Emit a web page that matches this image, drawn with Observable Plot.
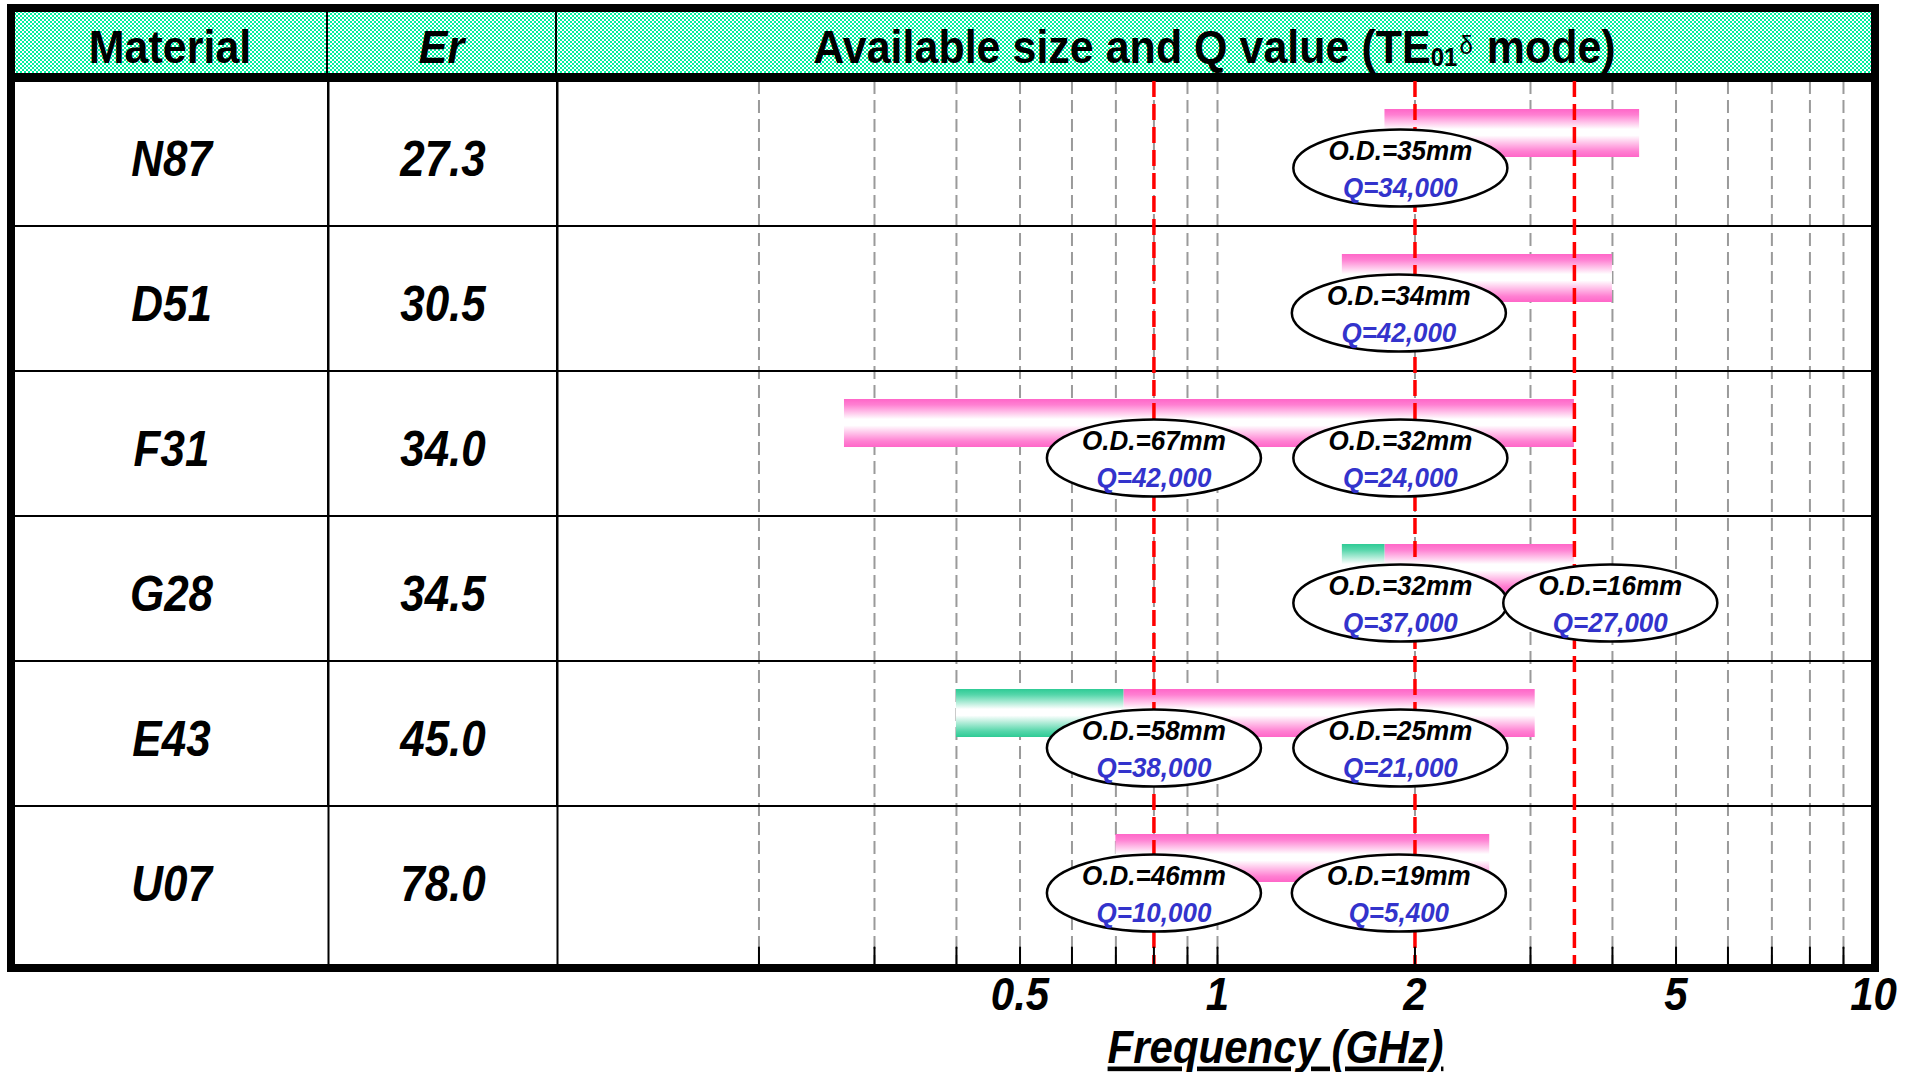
<!DOCTYPE html>
<html>
<head>
<meta charset="utf-8">
<script src="https://cdn.jsdelivr.net/npm/d3@7"></script>
<script src="https://cdn.jsdelivr.net/npm/@observablehq/plot@0.6"></script>
<style>
  html, body { margin: 0; padding: 0; background: #fff; }
  body { width: 1910px; height: 1072px; overflow: hidden; position: relative;
         font-family: "Liberation Sans", Arial, Helvetica, sans-serif; }
  .abs { position: absolute; }
  #header { left: 14px; top: 11px; width: 1858px; height: 62px; display: flex;
    background-color: #fff;
    background-image: repeating-conic-gradient(#00f0a0 0% 25%, #ffffff 0% 50%);
    background-size: 4px 4px; }
  #header .cell { box-sizing: border-box; height: 62px; display: flex; align-items: center;
    justify-content: center; padding-top: 10px; font-weight: bold; font-size: 43px;
    color: #000; white-space: nowrap; }
  #header .cell > span { display: inline-block; transform: scaleY(1.07); }
  #frame { left: 7px; top: 4px; width: 1872px; height: 968px; box-sizing: border-box;
    border: 8px solid #000; z-index: 10; pointer-events: none; }
  #headline { left: 7px; top: 73px; width: 1872px; height: 8px; background: #000; z-index: 10; }
  #matCol { left: 14px; top: 81px; width: 314px; height: 991px; }
  #erCol { left: 328px; top: 81px; width: 229px; height: 991px; }
  #freqCol { left: 557px; top: 81px; width: 1316px; height: 991px; }
</style>
</head>
<body>
<div id="header" class="abs">
  <div class="cell" style="width:314px;border-right:2px solid #000"><span>Material</span></div>
  <div class="cell" style="width:229px;border-right:2px solid #000;font-style:italic"><span>Er</span></div>
  <div class="cell" style="flex:1"><span>Available size and Q value (TE<span style="font-size:24px;position:relative;top:3px">01</span><span style="font-size:24px;font-weight:normal;position:relative;top:-8px;margin:0 2px">δ</span> mode)</span></div>
</div>
<div id="matCol" class="abs"></div>
<div id="erCol" class="abs"></div>
<div id="freqCol" class="abs"></div>
<div id="headline" class="abs"></div>
<div id="frame" class="abs"></div>
<script>
// ---------- data ----------
const materials = ["N87", "D51", "F31", "G28", "E43", "U07"];
const permittivity = ["27.3", "30.5", "34.0", "34.5", "45.0", "78.0"];

// available frequency ranges (GHz)
const barMaterial = ["N87", "D51", "F31", "G28", "G28", "E43", "E43", "U07"];
const barStart    = [1.80, 1.55, 0.27, 1.55, 1.80, 0.40, 0.72, 0.70];
const barEnd      = [4.40, 4.00, 3.50, 1.80, 3.50, 0.72, 3.05, 2.60];
const barKind     = ["pink", "pink", "pink", "green", "pink", "green", "pink", "pink"];

// resonator size / Q labels
const labelMaterial = ["N87", "D51", "F31", "F31", "G28", "G28", "E43", "E43", "U07", "U07"];
const labelFreq     = [1.90, 1.89, 0.80, 1.90, 1.90, 3.97, 0.80, 1.90, 0.80, 1.89];
const labelOD = ["O.D.=35mm", "O.D.=34mm", "O.D.=67mm", "O.D.=32mm", "O.D.=32mm",
                 "O.D.=16mm", "O.D.=58mm", "O.D.=25mm", "O.D.=46mm", "O.D.=19mm"];
const labelQ  = ["Q=34,000", "Q=42,000", "Q=42,000", "Q=24,000", "Q=37,000",
                 "Q=27,000", "Q=38,000", "Q=21,000", "Q=10,000", "Q=5,400"];

const gridFreqs   = [0.2, 0.3, 0.4, 0.5, 0.6, 0.7, 0.8, 0.9, 1, 2, 3, 4, 5, 6, 7, 8, 9];
const markerFreqs = [0.8, 2, 3.5];
const tickLabels  = [0.5, 1, 2, 5, 10];

// ---------- helpers ----------
const font = "Liberation Sans, Arial, Helvetica, sans-serif";
const baseStyle = {background: "transparent", overflow: "visible", fontFamily: font, maxWidth: "none"};
const yBand = () => ({type: "band", domain: materials, range: [0, 870], padding: 0, axis: null});

const ellipse = {
  draw(context, size) {
    const ry = Math.sqrt(size / Math.PI), rx = ry * 2.78, k = 0.5523;
    context.moveTo(rx, 0);
    context.bezierCurveTo(rx, k * ry, k * rx, ry, 0, ry);
    context.bezierCurveTo(-k * rx, ry, -rx, k * ry, -rx, 0);
    context.bezierCurveTo(-rx, -k * ry, -k * rx, -ry, 0, -ry);
    context.bezierCurveTo(k * rx, -ry, rx, -k * ry, rx, 0);
    context.closePath();
  }
};
const tickShape = { draw(context, l) { context.moveTo(0, 0); context.lineTo(0, -l); } };

const segments = barMaterial.map((m, i) => ({material: m, start: barStart[i], end: barEnd[i], kind: barKind[i]}));
const labels = labelMaterial.map((m, i) => ({material: m, f: labelFreq[i], od: labelOD[i], q: labelQ[i]}));

// vertical stretch of glyphs (the reference lettering is slightly condensed / tall)
function stretchText(svg, k, test) {
  d3.select(svg).selectAll("text").each(function () {
    if (test && !test(this)) return;
    const b = this.getBBox();
    const cy = b.y + b.height / 2;
    const t = this.getAttribute("transform") || "";
    this.setAttribute("transform", `${t} translate(0,${cy}) scale(1,${k}) translate(0,${-cy})`);
  });
}

function columnPlot(width, textOf) {
  return Plot.plot({
    width, height: 991, marginTop: 0, marginBottom: 108, marginLeft: 0, marginRight: 0,
    style: baseStyle,
    y: yBand(),
    marks: [
      Plot.cell(materials.slice(0, -1), {y: d => d, fill: "none", stroke: "#000", strokeWidth: 2}),
      Plot.frame({anchor: "right", stroke: "#000", strokeWidth: 2}),
      Plot.text(materials, {y: d => d, text: textOf, frameAnchor: "middle", dy: 6,
        fontSize: 44, fontWeight: "bold", fontStyle: "italic", fill: "#000"})
    ]
  });
}

const matPlot = columnPlot(314, d => d);
const erPlot = columnPlot(229, (d, i) => permittivity[i]);
document.getElementById("matCol").append(matPlot);
document.getElementById("erCol").append(erPlot);
stretchText(matPlot, 1.12);
stretchText(erPlot, 1.12);

const textStyle = {fontWeight: "bold", fontStyle: "italic"};
const freqPlot = Plot.plot({
  width: 1316, height: 991, marginTop: 0, marginBottom: 108, marginLeft: 0, marginRight: 0,
  style: baseStyle,
  x: {type: "log", domain: [0.1, 10], range: [4, 1316]},
  y: yBand(),
  marks: [
    Plot.ruleX(gridFreqs, {x: d => d, stroke: "#9a9a9a", strokeWidth: 2, strokeDasharray: "13,6"}),
    Plot.cell(materials.slice(0, -1), {y: d => d, fill: "none", stroke: "#000", strokeWidth: 2}),
    Plot.barX(segments.filter(d => d.kind === "pink"),
      {x1: "start", x2: "end", y: "material", fill: "url(#gradPink)", insetTop: 28, insetBottom: 69}),
    Plot.barX(segments.filter(d => d.kind === "green"),
      {x1: "start", x2: "end", y: "material", fill: "url(#gradGreen)", insetTop: 28, insetBottom: 69}),
    Plot.ruleX(markerFreqs, {x: d => d, stroke: "#ff0000", strokeWidth: 3.5, strokeDasharray: "16,7"}),
    Plot.dot(labels, {x: "f", y: "material", r: 38.5, symbol: ellipse, fill: "#fff",
      stroke: "#000", strokeWidth: 2.5, dy: 14}),
    Plot.text(labels, {x: "f", y: "material", text: "od", dy: -3, fontSize: 26, fill: "#000", ...textStyle}),
    Plot.text(labels, {x: "f", y: "material", text: "q", dy: 34, fontSize: 26, fill: "#3333cc", ...textStyle}),
    Plot.vector(gridFreqs, {x: d => d, frameAnchor: "bottom", length: 17, rotate: 0, anchor: "start",
      shape: tickShape, stroke: "#000", strokeWidth: 2}),
    Plot.axisX(tickLabels, {anchor: "bottom", tickSize: 0, tickPadding: 14, fontSize: 42,
      fill: "#000", label: null, tickFormat: d => String(d), ...textStyle}),
    Plot.text(["Frequency (GHz)"], {text: d => d, frameAnchor: "bottom", lineAnchor: "middle",
      dx: 60, dy: 84, fontSize: 42, fill: "#000", ...textStyle})
  ]
});

d3.select(freqPlot).insert("defs", ":first-child").html(`
  <linearGradient id="gradPink" x1="0" y1="0" x2="0" y2="1">
    <stop offset="0" stop-color="#ff66c8"/>
    <stop offset="0.12" stop-color="#ff80d2"/>
    <stop offset="0.42" stop-color="#ffffff"/>
    <stop offset="0.55" stop-color="#ffffff"/>
    <stop offset="0.88" stop-color="#ff80d2"/>
    <stop offset="1" stop-color="#ff66c8"/>
  </linearGradient>
  <linearGradient id="gradGreen" x1="0" y1="0" x2="0" y2="1">
    <stop offset="0" stop-color="#2ecb95"/>
    <stop offset="0.12" stop-color="#55d6aa"/>
    <stop offset="0.42" stop-color="#ffffff"/>
    <stop offset="0.55" stop-color="#ffffff"/>
    <stop offset="0.88" stop-color="#55d6aa"/>
    <stop offset="1" stop-color="#2ecb95"/>
  </linearGradient>`);
d3.select(freqPlot).selectAll("text")
  .filter(function () { return this.textContent === "Frequency (GHz)"; })
  .attr("text-decoration", "underline");
d3.select(freqPlot).selectAll("g[aria-label='x-axis tick label'] text, g[aria-label='x-axis tick label']")
  .attr("font-weight", "bold").attr("font-style", "italic");

document.getElementById("freqCol").append(freqPlot);
stretchText(freqPlot, 1.1, el => el.textContent.length <= 3 || el.textContent === "Frequency (GHz)");
stretchText(freqPlot, 1.06, el => /^(O\.D\.|Q=)/.test(el.textContent));
</script>
</body>
</html>
